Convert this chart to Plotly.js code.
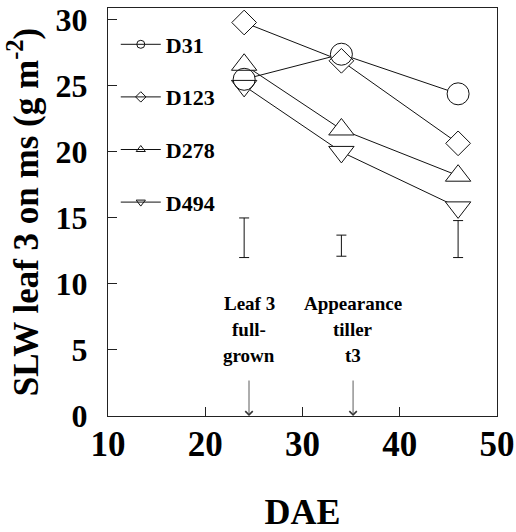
<!DOCTYPE html>
<html><head><meta charset="utf-8">
<script src="https://cdn.plot.ly/plotly-3.0.1.min.js"></script>
<style>html,body{margin:0;padding:0;background:#fff}#chart{width:516px;height:532px}</style>
</head><body><div id="chart"></div>
<script>
const days = [24, 34, 46];
const seriesNames = ["D31", "D123", "D278", "D494"];
const d31 = [25.5, 27.4, 24.4];
const d123 = [29.8, 26.9, 20.65];
const d278 = [26.6, 21.7, 18.2];
const d494 = [25.0, 20.0, 15.8];
const errMid = [13.5, 12.9, 13.4];
const errHalf = [1.5, 0.8, 1.4];
const xTicks = [10, 20, 30, 40, 50];
const yTicks = [0, 5, 10, 15, 20, 25, 30];

const series = [d31, d123, d278, d494];
const symbols = ["circle", "diamond", "triangle-up", "triangle-down"];
const sizes = [22, 19, 22, 22];
const FONT = "Liberation Serif";

const traces = [];
series.forEach((s, i) => traces.push({x: days, y: s, mode: "lines", line: {color: "#111", width: 1}, showlegend: false, hoverinfo: "skip"}));
series.forEach((s, i) => traces.push({x: days, y: s, mode: "markers", marker: {symbol: symbols[i], size: sizes[i], color: "#fff", line: {width: 0}}, showlegend: false, hoverinfo: "skip"}));
series.forEach((s, i) => traces.push({x: days, y: s, mode: "markers", marker: {symbol: symbols[i] + "-open", size: sizes[i], color: "#111", line: {width: 1, color: "#111"}}, showlegend: false, name: seriesNames[i]}));
series.forEach((s, i) => traces.push({x: [null], y: [null], mode: "lines+markers", name: seriesNames[i], legendgroup: "g" + i,
  line: {color: "#111", width: 1}, marker: {symbol: symbols[i] + "-open", size: 8, color: "#111", line: {width: 1}}}));
traces.push({x: days, y: errMid, mode: "markers", marker: {size: 1, color: "rgba(0,0,0,0)"}, showlegend: false,
  error_y: {type: "data", array: errHalf, visible: true, color: "#111", thickness: 1, width: 5}});

const annFont = {family: FONT, size: 19, color: "#000", weight: "bold"};
const annotations = [];
const labelLines = [[24.5, ["Leaf 3", "full-", "grown"]], [35.2, ["Appearance", "tiller", "t3"]]];
const lineYs = [8.55, 6.55, 4.6];
labelLines.forEach(([xv, lines]) => {
  lines.forEach((t, k) => annotations.push({x: xv, y: lineYs[k], xref: "x", yref: "y", text: t, showarrow: false, font: annFont}));
  annotations.push({x: xv, y: 0, xref: "x", yref: "y", ax: xv, ay: 2.8, axref: "x", ayref: "y", text: "", showarrow: true,
    arrowhead: 4, arrowsize: 1.8, arrowwidth: 0.8, arrowcolor: "#333"});
});

const layout = {
  width: 516, height: 532,
  margin: {l: 108, r: 19, t: 8, b: 116},
  paper_bgcolor: "#fff", plot_bgcolor: "#fff",
  showlegend: true,
  legend: {x: 0.02, y: 0.962, xanchor: "left", yanchor: "top", bgcolor: "rgba(0,0,0,0)", borderwidth: 0,
    font: {family: FONT, size: 22, color: "#000", weight: "bold"}, tracegroupgap: 21, itemwidth: 40, itemclick: false},
  xaxis: {range: [10, 50], tickvals: xTicks, ticks: "inside", ticklen: 9, tickcolor: "#222", showgrid: false, zeroline: false,
    showline: true, linecolor: "#222", linewidth: 1, mirror: true,
    tickfont: {family: FONT, size: 35, color: "#000", weight: "bold"}, ticklabelstandoff: -3,
    title: {text: "DAE", font: {family: FONT, size: 36, color: "#000", weight: "bold"}, standoff: 45}},
  yaxis: {range: [0, 30.9], tickvals: yTicks, ticks: "inside", ticklen: 9, tickcolor: "#222", showgrid: false, zeroline: false,
    showline: true, linecolor: "#222", linewidth: 1, mirror: true,
    tickfont: {family: FONT, size: 32, color: "#000", weight: "bold"}, ticklabelstandoff: 13,
    title: {text: "SLW leaf 3 on ms (g m<sup>-2</sup>)", font: {family: FONT, size: 35, color: "#000", weight: "bold"}, standoff: 6}},
  annotations: annotations
};
Plotly.newPlot("chart", traces, layout, {staticPlot: true, displayModeBar: false});
</script></body></html>
